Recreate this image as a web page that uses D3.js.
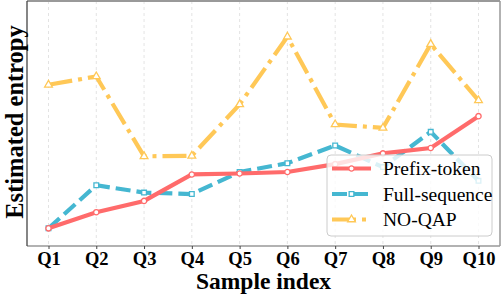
<!DOCTYPE html>
<html>
<head>
<meta charset="utf-8">
<script src="https://cdn.jsdelivr.net/npm/d3@7"></script>
<style>
  body { margin: 0; background: #fff; }
</style>
</head>
<body>
<div id="chart"></div>
<script>
// DATA
const categories = ["Q1", "Q2", "Q3", "Q4", "Q5", "Q6", "Q7", "Q8", "Q9", "Q10"];
const prefixToken = [0.36, 0.69, 0.92, 1.46, 1.48, 1.51, 1.67, 1.89, 2.00, 2.65];
const fullSequence = [0.36, 1.24, 1.09, 1.06, 1.51, 1.69, 2.05, 1.61, 2.33, 1.33];
const noQap = [3.29, 3.46, 1.83, 1.84, 2.89, 4.27, 2.48, 2.41, 4.12, 2.97];

const seriesList = [
    { name: "Prefix-token", values: prefixToken, color: "#FF6B6B", dash: null, marker: "circle" },
    { name: "Full-sequence", values: fullSequence, color: "#45B7D1", dash: "15,6", marker: "square" },
    { name: "NO-QAP", values: noQap, color: "#FFC857", dash: "24,6,4,6", marker: "triangle" }
];

const serif = "'Liberation Serif', 'Times New Roman', Times, serif";

const W = 502, H = 295;
const margin = { top: 1, right: 2, bottom: 49, left: 27 };
const width = W - margin.left - margin.right;
const height = H - margin.top - margin.bottom;

const svg = d3.select("#chart").append("svg")
    .attr("width", W).attr("height", H)
    .attr("font-family", serif);
const g = svg.append("g").attr("transform", `translate(${margin.left},${margin.top})`);

// scales
const xScale = d3.scalePoint().domain(categories).range([0, width]).padding(0.45);
const yScale = d3.scaleLinear().domain([0, 5]).range([height, 0]);

// grid
g.selectAll(".grid").data(categories).enter().append("line")
    .attr("x1", d => xScale(d)).attr("x2", d => xScale(d))
    .attr("y1", 0).attr("y2", height)
    .attr("stroke", "#dcdcdc").attr("stroke-width", 0.8)
    .attr("stroke-dasharray", "3,3");

// lines
const line = d3.line()
    .x((d, i) => xScale(categories[i]))
    .y(d => yScale(d));

const symbolType = { circle: d3.symbolCircle, square: d3.symbolSquare, triangle: d3.symbolTriangle };

function drawMarker(sel, s, x, y) {
    sel.append("path")
        .attr("d", d3.symbol().type(symbolType[s.marker]).size(s.marker === "triangle" ? 26 : 22)())
        .attr("transform", `translate(${x},${y})`)
        .attr("fill", "#fff")
        .attr("stroke", s.color)
        .attr("stroke-width", 1.3);
}

seriesList.slice().reverse().forEach(s => {
    g.append("path")
        .attr("d", line(s.values))
        .attr("fill", "none")
        .attr("stroke", s.color)
        .attr("stroke-width", 4.2)
        .attr("stroke-dasharray", s.dash);
    s.values.forEach((v, i) => drawMarker(g, s, xScale(categories[i]), yScale(v)));
});

// spines
g.append("line").attr("x1", 0).attr("x2", width).attr("y1", 0).attr("y2", 0)
    .attr("stroke", "#999").attr("stroke-width", 2);
g.append("line").attr("x1", width).attr("x2", width).attr("y1", 0).attr("y2", height)
    .attr("stroke", "#999").attr("stroke-width", 1.5);
g.append("line").attr("x1", 0).attr("x2", width).attr("y1", height).attr("y2", height)
    .attr("stroke", "#999").attr("stroke-width", 1.5);
g.append("line").attr("x1", 0).attr("x2", 0).attr("y1", 0).attr("y2", height)
    .attr("stroke", "#444").attr("stroke-width", 1.3);

// x axis
const xAxis = g.append("g")
    .attr("transform", `translate(0,${height})`)
    .call(d3.axisBottom(xScale).tickSize(3).tickPadding(3));
xAxis.attr("font-family", serif).attr("font-size", 18.5).attr("font-weight", "bold");
xAxis.select(".domain").remove();
xAxis.selectAll(".tick line").attr("stroke", "#444");
xAxis.selectAll("text").attr("fill", "#000");

// labels
svg.append("text")
    .attr("x", margin.left + width / 2)
    .attr("y", 289)
    .attr("text-anchor", "middle")
    .attr("font-weight", "bold")
    .attr("font-size", 23.5)
    .text("Sample index");

svg.append("text")
    .attr("transform", "rotate(-90)")
    .attr("x", -122)
    .attr("y", 23)
    .attr("text-anchor", "middle")
    .attr("font-weight", "bold")
    .attr("font-size", 24.5)
    .text("Estimated entropy");

// legend
const lg = svg.append("g");
lg.append("rect")
    .attr("x", 327).attr("y", 155)
    .attr("width", 165).attr("height", 81)
    .attr("rx", 4)
    .attr("fill", "#fff").attr("fill-opacity", 0.8)
    .attr("stroke", "#ccc").attr("stroke-width", 1);

seriesList.forEach((s, i) => {
    const cy = 168.5 + i * 25.5;
    lg.append("line")
        .attr("x1", 332).attr("x2", 371)
        .attr("y1", cy).attr("y2", cy)
        .attr("stroke", s.color).attr("stroke-width", 4.2)
        .attr("stroke-dasharray", s.dash);
    drawMarker(lg, s, 351.5, cy);
    lg.append("text")
        .attr("x", 383).attr("y", cy + 6.5)
        .attr("font-size", 19.5)
        .text(s.name);
});
</script>
</body>
</html>
